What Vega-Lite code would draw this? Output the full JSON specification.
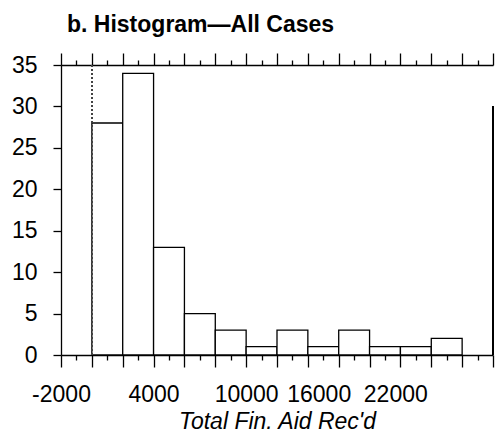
{
  "$schema": "https://vega.github.io/schema/vega-lite/v6.json",
  "width": 432,
  "height": 290,
  "autosize": {"type": "none"},
  "padding": {"left": 61, "top": 65, "right": 4, "bottom": 80},
  "background": "white",
  "title": {
    "text": "b. Histogram\u2014All Cases",
    "anchor": "start",
    "frame": "group",
    "dx": 6,
    "offset": 15,
    "font": "Liberation Sans",
    "fontSize": 23,
    "fontWeight": "bold",
    "color": "black"
  },
  "config": {
    "view": {"stroke": null},
    "axis": {
      "domainColor": "black",
      "domainWidth": 1.3,
      "tickColor": "black",
      "tickWidth": 1.3,
      "labelColor": "black",
      "labelFont": "Liberation Sans",
      "labelFontSize": 23,
      "titleFont": "Liberation Sans",
      "titleColor": "black",
      "grid": false
    }
  },
  "data": {
    "values": [
      {"bin_start": 0, "bin_end": 2000, "count": 28},
      {"bin_start": 2000, "bin_end": 4000, "count": 34},
      {"bin_start": 4000, "bin_end": 6000, "count": 13},
      {"bin_start": 6000, "bin_end": 8000, "count": 5},
      {"bin_start": 8000, "bin_end": 10000, "count": 3},
      {"bin_start": 10000, "bin_end": 12000, "count": 1},
      {"bin_start": 12000, "bin_end": 14000, "count": 3},
      {"bin_start": 14000, "bin_end": 16000, "count": 1},
      {"bin_start": 16000, "bin_end": 18000, "count": 3},
      {"bin_start": 18000, "bin_end": 20000, "count": 1},
      {"bin_start": 20000, "bin_end": 22000, "count": 1},
      {"bin_start": 22000, "bin_end": 24000, "count": 2}
    ]
  },
  "layer": [
    {
      "mark": {"type": "bar", "fill": "white", "stroke": "black", "strokeWidth": 1.3},
      "encoding": {
        "x": {
          "field": "bin_start",
          "type": "quantitative",
          "scale": {"domain": [-2000, 26000], "nice": false, "zero": false},
          "axis": {
            "orient": "bottom",
            "title": "Total Fin. Aid Rec'd",
            "titleFontSize": 23,
            "titleFontStyle": "italic",
            "titleFontWeight": "normal",
            "titlePadding": 4,
            "values": [-2000,-1000,0,1000,2000,3000,4000,5000,6000,7000,8000,9000,10000,11000,12000,13000,14000,15000,16000,17000,18000,19000,20000,21000,22000,23000,24000,25000,26000],
            "labelExpr": "indexof([-2000,4000,10000,16000,22000], datum.value) >= 0 ? '' + datum.value : ''",
            "labelPadding": 16,
            "labelOverlap": false,
            "labelBound": false,
            "labelFlush": false,
            "tickSize": {"condition": {"test": "datum.value % 2000 === 0", "value": 12}, "value": 5},
            "labelOffset": {"condition": [{"test": "datum.value === 16000", "value": -20}, {"test": "datum.value === 22000", "value": -36}], "value": 0}
          }
        },
        "x2": {"field": "bin_end"},
        "y": {
          "field": "count",
          "type": "quantitative",
          "scale": {"domain": [0, 35], "nice": false},
          "axis": {
            "title": null,
            "values": [0,2.5,5,7.5,10,12.5,15,17.5,20,22.5,25,27.5,30,32.5,35],
            "labelExpr": "datum.value % 5 === 0 ? '' + datum.value : ''",
            "labelPadding": 16,
            "labelOverlap": false,
            "labelBound": false,
            "labelFlush": false,
            "tickSize": {"condition": {"test": "datum.value % 5 === 0", "value": 8}, "value": 4}
          }
        },
        "y2": {"datum": 0}
      }
    },
    {
      "mark": {"type": "rule", "stroke": "#444", "strokeWidth": 1, "strokeDash": [2, 2]},
      "encoding": {
        "x": {
          "datum": 0,
          "type": "quantitative",
          "axis": {
            "orient": "top",
            "title": null,
            "labels": false,
            "values": [-2000,-1000,0,1000,2000,3000,4000,5000,6000,7000,8000,9000,10000,11000,12000,13000,14000,15000,16000,17000,18000,19000,20000,21000,22000,23000,24000,25000,26000],
            "tickSize": {"condition": {"test": "datum.value % 2000 === 0", "value": 12}, "value": 5}
          }
        }
      }
    },
    {
      "mark": {"type": "rule", "stroke": "black", "strokeWidth": 1.3},
      "encoding": {
        "x": {"datum": 26000, "type": "quantitative", "axis": null},
        "y": {"datum": 0, "type": "quantitative"},
        "y2": {"datum": 30}
      }
    }
  ],
  "resolve": {"axis": {"x": "independent"}}
}
